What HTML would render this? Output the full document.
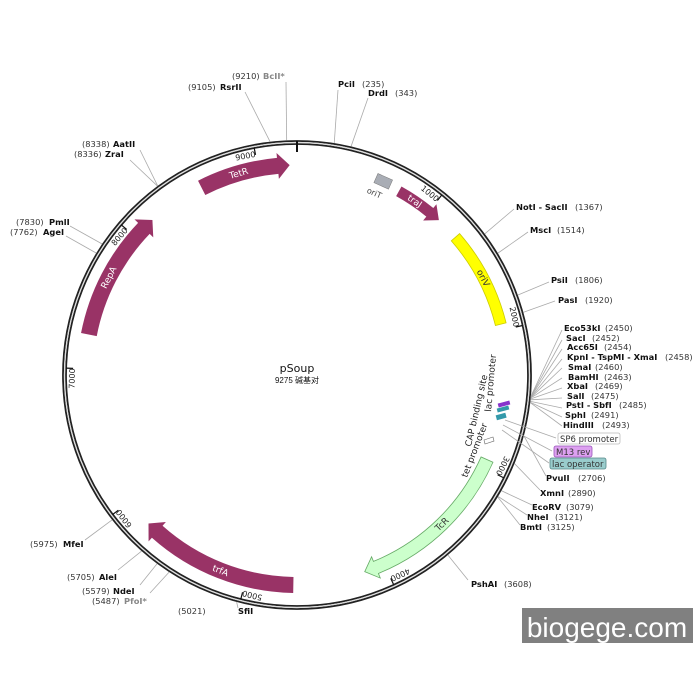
<!DOCTYPE html>
<html><head><meta charset="utf-8"><style>
html,body{margin:0;padding:0;background:#fff;}
svg{display:block;font-family:"DejaVu Sans","Liberation Sans","Noto Sans CJK SC",sans-serif;}
.n{font-size:8.3px;font-weight:bold;fill:#111}
.p{font-size:8.3px;fill:#333}
.g{font-size:8.3px;font-weight:bold;fill:#888}
</style></head><body>
<svg id="s" width="700" height="700" viewBox="0 0 700 700" xmlns="http://www.w3.org/2000/svg">
<circle cx="297" cy="375" r="234" fill="none" stroke="#222" stroke-width="1.8"/>
<circle cx="297" cy="375" r="231" fill="none" stroke="#222" stroke-width="1.8"/>
<circle cx="297" cy="375" r="232.5" fill="none" stroke="#ddd" stroke-width="1.2"/>
<line x1="297" y1="141" x2="297" y2="152" stroke="#111" stroke-width="2"/>
<text x="297" y="372" text-anchor="middle" style="font-size:11px;fill:#111">pSoup</text>
<text x="297" y="383" text-anchor="middle" style="font-size:8px;fill:#111;font-family:'Liberation Sans','Noto Sans CJK SC',sans-serif">9275 碱基对</text>
<rect x="522" y="608" width="171" height="35" fill="#808080"/>
<text x="607" y="637" text-anchor="middle" style="font-family:'Liberation Sans',sans-serif;font-size:28px;fill:#fff">biogege.com</text>
<g id="g"></g>
</svg>
<script>
var CX=297,CY=375,N=9275,g=document.getElementById('g'),NS='http://www.w3.org/2000/svg';
function P(a,r){var t=a*Math.PI/180;return [CX+r*Math.sin(t),CY-r*Math.cos(t)];}
function el(t,at,txt){var e=document.createElementNS(NS,t);for(var k in at)e.setAttribute(k,at[k]);if(txt!=null)e.textContent=txt;g.appendChild(e);return e;}
function band(a1,a2,r,w,head,col,stroke,label,lc){
 var ro=r+w/2,ri=r-w/2,d;
 var dir=a2>a1?1:-1;
 var hd=head?(12/r*180/Math.PI):0;
 var ae=a2-dir*hd;
 var p1=P(a1,ro),p2=P(ae,ro),p3=P(ae,ri),p4=P(a1,ri);
 var lg=Math.abs(ae-a1)>180?1:0,sw=dir>0?1:0;
 d='M'+p1+' A'+ro+' '+ro+' 0 '+lg+' '+sw+' '+p2;
 if(head){var h1=P(ae,ro+5),tip=P(a2,r),h2=P(ae,ri-5);d+=' L'+h1+' L'+tip+' L'+h2+' L'+p3;}
 else d+=' L'+p3;
 d+=' A'+ri+' '+ri+' 0 '+lg+' '+(1-sw)+' '+p4+' Z';
 el('path',{d:d,fill:col,stroke:stroke||'none','stroke-width':0.8});
 if(label){var m=(a1+ae)/2,q=P(m,r);var rot=m;if(m>90&&m<270)rot=m-180;
  el('text',{x:q[0],y:q[1]+3,'text-anchor':'middle',transform:'rotate('+rot+' '+q[0]+' '+q[1]+')',style:'font-size:9px;fill:'+(lc||'#fff')},label);}
}
function ang(p){return p/N*360;}
band(-27,-2,210,16,1,'#993366',null,'TetR');
band(281-360,-43,212,16,1,'#993366',null,'RepA');
band(29,42.5,210,11,1,'#993366',null,'traJ');
band(49,76,210,11,0,'#ffff00','#cccc00','oriV','#333');
band(114,161,208,13,1,'#ccffcc','#66aa66','TcR','#333');
band(181,225,210,16,1,'#993366',null,'trfA');
(function(){var a=P(24,212);el('rect',{x:a[0]-8,y:a[1]-5,width:16,height:10,fill:'#a9adb5',stroke:'#777','stroke-width':0.5,transform:'rotate(24 '+a[0]+' '+a[1]+')'});
var b=P(23,195);el('text',{x:b[0],y:b[1],'text-anchor':'middle',transform:'rotate(24 '+b[0]+' '+b[1]+')',style:'font-size:8px;fill:#444'},'oriT');})();
el('rect',{x:498,y:402,width:12,height:4,fill:'#8833cc',transform:'rotate(-15 504 404)'});
el('rect',{x:497,y:407,width:12,height:4,fill:'#3399aa',transform:'rotate(-15 503 409)'});
el('rect',{x:496,y:414,width:10,height:5,fill:'#3399aa',transform:'rotate(-15 501 416)'});
el('path',{d:'M484 440 l9 -3 l1 4 l-9 3z',fill:'none',stroke:'#666','stroke-width':0.6});
el('text',{x:0,y:0,transform:'translate(491,412) rotate(-85)',style:'font-size:9px;fill:#222'},'lac promoter');
el('text',{x:0,y:0,transform:'translate(471,447) rotate(-77)',style:'font-size:9px;fill:#222'},'CAP binding site');
el('text',{x:0,y:0,transform:'translate(467,478) rotate(-69)',style:'font-size:9px;fill:#222'},'tet promoter');
for(var k=1;k<=9;k++){var a=ang(k*1000),o=P(a,231),i=P(a,224);
 el('line',{x1:o[0],y1:o[1],x2:i[0],y2:i[1],stroke:'#111','stroke-width':1.2});
 var top=(a<90||a>270);
 if(top){var t=P(a,222);var r=a>270?a-360:a;
  el('text',{x:t[0],y:t[1],'text-anchor':'end',transform:'rotate('+r+' '+t[0]+' '+t[1]+')',style:'font-size:8px;fill:#222'},''+k*1000);}
 else{var t=P(a,229);
  el('text',{x:t[0],y:t[1],'text-anchor':'start',transform:'rotate('+(a-180)+' '+t[0]+' '+t[1]+')',dy:'-0.5',style:'font-size:8px;fill:#222'},''+k*1000);}
}
var E=[
[9105,245,92,[[188,90,'p','(9105)'],[220,90,'n','RsrII']]],
[9210,286,82,[[232,79,'p','(9210)'],[263,79,'g','BcII*']]],
[235,338,90,[[338,87,'n','PciI'],[362,87,'p','(235)']]],
[343,368,98,[[368,96,'n','DrdI'],[395,96,'p','(343)']]],
[8338,140,150,[[82,147,'p','(8338)'],[113,147,'n','AatII']]],
[8336,130,160,[[74,157,'p','(8336)'],[105,157,'n','ZraI']]],
[7830,70,226,[[16,225,'p','(7830)'],[49,225,'n','PmlI']]],
[7762,66,236,[[10,235,'p','(7762)'],[43,235,'n','AgeI']]],
[1367,514,209,[[516,210,'n','NotI - SacII'],[575,210,'p','(1367)']]],
[1514,528,232,[[530,233,'n','MscI'],[557,233,'p','(1514)']]],
[1806,549,282,[[551,283,'n','PsiI'],[575,283,'p','(1806)']]],
[1920,555,301,[[558,303,'n','PasI'],[585,303,'p','(1920)']]],
[2450,562,330,[[564,331,'n','Eco53kI'],[605,331,'p','(2450)']]],
[2452,562,340,[[566,341,'n','SacI'],[592,341,'p','(2452)']]],
[2454,562,349,[[567,350,'n','Acc65I'],[604,350,'p','(2454)']]],
[2458,562,359,[[567,360,'n','KpnI - TspMI - XmaI'],[665,360,'p','(2458)']]],
[2460,562,368,[[568,370,'n','SmaI'],[595,370,'p','(2460)']]],
[2463,562,378,[[568,380,'n','BamHI'],[604,380,'p','(2463)']]],
[2469,562,388,[[567,389,'n','XbaI'],[595,389,'p','(2469)']]],
[2475,562,398,[[567,399,'n','SalI'],[591,399,'p','(2475)']]],
[2485,562,408,[[566,408,'n','PstI - SbfI'],[619,408,'p','(2485)']]],
[2491,562,417,[[565,418,'n','SphI'],[591,418,'p','(2491)']]],
[2493,562,426,[[563,428,'n','HindIII'],[602,428,'p','(2493)']]],
[2706,546,476,[[546,481,'n','PvuII'],[578,481,'p','(2706)']]],
[2890,540,490,[[540,496,'n','XmnI'],[568,496,'p','(2890)']]],
[3079,532,505,[[532,510,'n','EcoRV'],[566,510,'p','(3079)']]],
[3121,527,515,[[527,520,'n','NheI'],[555,520,'p','(3121)']]],
[3125,520,525,[[520,530,'n','BmtI'],[547,530,'p','(3125)']]],
[3608,468,580,[[471,587,'n','PshAI'],[504,587,'p','(3608)']]],
[5021,238,608,[[178,614,'p','(5021)'],[238,614,'n','SfiI']]],
[5487,150,593,[[92,604,'p','(5487)'],[124,604,'g','PfoI*']]],
[5579,140,585,[[82,594,'p','(5579)'],[113,594,'n','NdeI']]],
[5705,118,570,[[67,580,'p','(5705)'],[99,580,'n','AleI']]],
[5975,85,540,[[30,547,'p','(5975)'],[63,547,'n','MfeI']]]
];
E.forEach(function(e){var a=ang(e[0]),c=P(a,235);
 el('line',{x1:c[0],y1:c[1],x2:e[1],y2:e[2],stroke:'#aaa','stroke-width':0.8});
 e[3].forEach(function(t){el('text',{x:t[0],y:t[1],'class':t[2]},t[3]);});});
[[558,433,62,'#fff','#bbb','SP6 promoter'],[554,446,38,'#dda0f0','#9955bb','M13 rev'],[550,458,56,'#99cccc','#558888','lac operator']].forEach(function(b){
 el('rect',{x:b[0],y:b[1],width:b[2],height:11,rx:2,fill:b[3],stroke:b[4],'stroke-width':0.8});
 el('text',{x:b[0]+2,y:b[1]+9,style:'font-size:8.5px;fill:#333'},b[5]);});
el('line',{x1:505,y1:420,x2:556,y2:438,stroke:'#aaa','stroke-width':0.8});
el('line',{x1:503,y1:425,x2:552,y2:451,stroke:'#aaa','stroke-width':0.8});
el('line',{x1:502,y1:430,x2:549,y2:463,stroke:'#aaa','stroke-width':0.8});
</script>
</body></html>
